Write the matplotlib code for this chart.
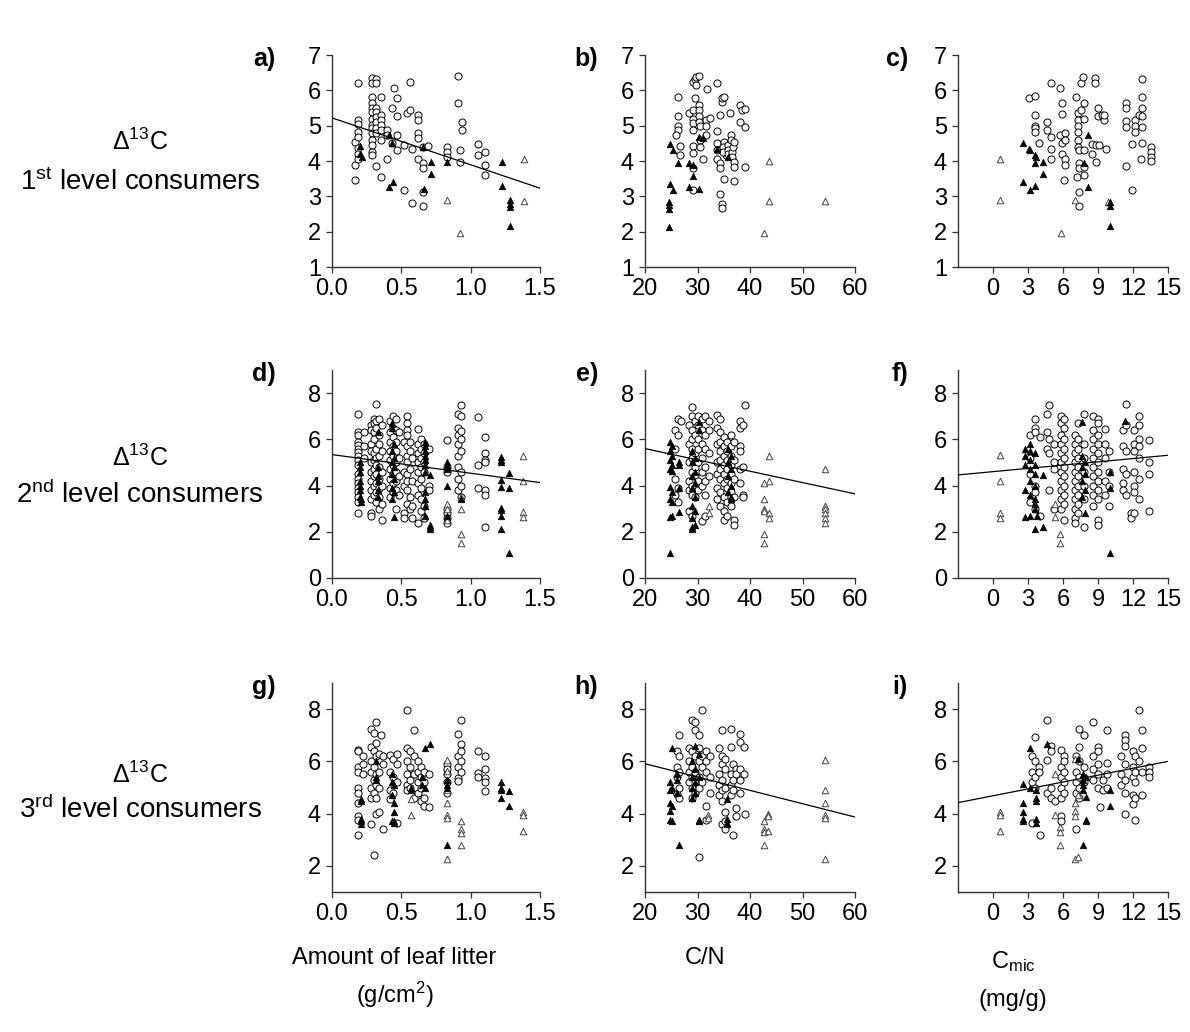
import matplotlib
matplotlib.use('Agg')
import matplotlib.pyplot as plt

plt.rcParams['font.family'] = ['Liberation Sans', 'DejaVu Sans']
plt.rcParams['mathtext.fontset'] = 'custom'
plt.rcParams['mathtext.rm'] = 'Liberation Sans'
plt.rcParams['mathtext.it'] = 'Liberation Sans'

# each series: list of (x, [y values stacked at that x])
# row 1 - 1st level consumers
a_circ = [(0.168, [3.46, 3.88, 4.54]), (0.185, [6.22, 5.16, 5.06, 4.83, 4.68, 4.38, 4.21, 4.07]),
          (0.29, [6.34, 6.2, 5.82, 5.63, 5.49, 5.39, 5.2, 5.02, 4.92, 4.78, 4.59, 4.45, 4.26, 4.17]),
          (0.32, [6.31, 6.2, 5.49, 5.39, 5.25, 5.11, 4.92, 4.78, 3.85]),
          (0.35, [5.82, 5.3, 5.16, 5.02, 4.87, 4.59, 3.55]), (0.40, [4.87, 4.73, 4.07]),
          (0.43, [5.49, 4.5]), (0.45, [6.07]), (0.47, [5.77, 5.27, 4.73, 4.3]), (0.52, [4.45, 3.17]),
          (0.54, [5.35]), (0.56, [6.24, 5.44]), (0.58, [4.33, 2.82]), (0.62, [5.3, 5.16, 4.78, 4.64, 4.07]),
          (0.655, [4.4, 3.93, 3.79, 3.13, 2.72]), (0.69, [4.42]), (0.83, [4.4, 4.26, 4.12]),
          (0.91, [6.4, 5.63]), (0.925, [4.3, 3.98]), (0.935, [5.11, 4.87]), (1.05, [4.47, 4.18]),
          (1.10, [4.26, 3.88, 3.6])]
a_fill = [(0.20, [4.42, 4.21]), (0.215, [4.12]), (0.41, [4.73, 3.27]), (0.43, [4.5]), (0.44, [3.4]),
          (0.655, [4.4]), (0.667, [3.22]), (0.713, [3.98, 3.64]), (0.83, [3.98]),
          (1.224, [3.98, 3.3]), (1.284, [2.89, 2.79, 2.7, 2.15])]
a_open = [(0.83, [2.89]), (0.924, [1.96]), (1.387, [4.07, 2.87])]

b_circ = [(26.3, [5.8, 5.27, 5.0]), (26.2, [4.87]), (25.9, [4.73]), (26.7, [4.42, 4.16]),
          (28.3, [5.35]), (29.1, [6.24, 5.44, 5.2, 5.08, 3.79]), (29.5, [6.31, 5.77]), (29.8, [6.39]),
          (30.3, [6.4]), (29.7, [6.15]), (29.2, [4.87, 4.42, 4.23, 3.17]),
          (30.2, [5.58, 5.44, 5.27, 5.11]), (30.4, [5.0, 4.59, 4.4]), (31.0, [4.07]), (31.9, [6.05]),
          (31.7, [5.16, 4.99, 4.73]), (32.3, [5.22]), (33.8, [6.2, 4.85, 4.52, 4.3, 4.07]),
          (34.2, [5.3, 3.93, 3.79]), (34.3, [3.08]), (34.6, [5.68, 5.77, 2.79, 2.68]),
          (35.1, [5.8, 3.5, 4.55]), (35.4, [4.35, 4.16]), (34.8, [4.4, 4.25]), (35.8, [4.45, 4.3, 4.2]),
          (36.2, [5.35]), (36.3, [4.73, 4.59]), (36.5, [4.25, 4.1]), (36.7, [4.4]),
          (36.9, [4.55, 3.98, 3.83]), (37.0, [3.44]), (38.1, [5.58, 5.11]), (38.4, [5.44]),
          (39.0, [5.46, 4.95, 3.83])]
b_fill = [(24.8, [4.47, 3.36]), (24.6, [2.84, 2.75, 2.65, 2.13]), (25.3, [4.31]), (25.4, [3.17]),
          (26.3, [3.93]), (28.4, [3.93, 3.27]), (29.1, [3.88, 3.57]), (30.3, [3.22]), (30.2, [4.69]),
          (31.1, [4.64]), (35.9, [4.12]), (33.8, [4.33])]
b_open = [(43.6, [4.0]), (43.7, [2.86]), (42.7, [1.96]), (54.3, [2.86])]

c_circ = [(3.1, [5.77]), (3.6, [5.84]), (3.56, [5.3, 4.99, 4.92, 4.83]), (3.9, [4.5]), (4.6, [5.11, 4.87]),
          (5.0, [4.68, 4.35, 4.07, 6.22]), (5.75, [6.07, 4.73]), (5.89, [5.65, 5.33, 4.5, 4.21]),
          (6.17, [4.07, 3.88]), (6.1, [3.46]), (6.2, [4.78, 4.59]), (7.1, [5.82]),
          (7.25, [5.36, 5.16, 4.99, 4.83, 4.59, 4.4]), (7.38, [4.3, 3.93, 3.79, 3.12, 2.72]),
          (7.16, [3.55]), (7.5, [5.44, 6.22]), (7.7, [6.39]), (7.8, [5.63, 5.18, 4.3, 3.83, 3.6]),
          (8.5, [4.48, 4.21]), (8.7, [6.34, 6.2]), (9.0, [5.49, 5.27]), (8.86, [4.45, 3.98]),
          (9.3, [5.3]), (9.5, [5.16, 5.3]), (9.7, [4.33]), (9.1, [4.45]),
          (11.4, [5.63, 5.49, 5.13, 4.97, 3.85]), (11.9, [3.19, 4.48]), (12.2, [5.16, 4.99, 4.83]),
          (12.5, [5.3]), (12.8, [6.31, 5.8, 5.49, 5.27, 4.97, 4.5]), (12.65, [4.07]),
          (13.5, [4.4, 4.26, 4.12, 4.0])]
c_fill = [(2.6, [4.5, 3.4]), (3.06, [4.35]), (3.2, [4.3, 3.17]), (3.6, [4.16, 3.95, 3.3]), (3.7, [4.1]),
          (4.3, [3.98, 3.64]), (8.15, [4.73]), (7.8, [3.95]), (8.1, [3.27]), (10.0, [2.84, 2.74, 2.15])]
c_open = [(0.6, [4.05, 2.89]), (5.8, [1.97]), (7.0, [2.89]), (9.85, [2.84])]

# row 2 - 2nd level consumers
d_circ = [(0.185, [7.1, 6.3, 6.2, 5.9, 5.75, 5.6, 5.45, 5.3, 5.1, 4.9, 4.5, 4.3, 4.1, 3.9, 3.7, 3.5, 3.3, 2.8]),
          (0.23, [6.3, 5.7, 5.2]), (0.28, [6.6, 6.4, 5.8, 5.5, 5.0, 4.6, 4.2, 3.8, 3.4, 2.8, 2.7]),
          (0.30, [6.9, 6.7, 6.3, 6.0, 5.4, 5.1, 4.7, 4.4, 4.0, 3.6]),
          (0.32, [7.54, 6.8, 6.5, 5.6, 5.2, 4.9, 4.5, 4.1, 3.7, 3.3]),
          (0.34, [6.9, 6.2, 5.8, 5.3, 4.8, 4.3, 3.9, 3.5, 3.0]), (0.36, [6.6, 5.5, 4.6, 4.0, 3.2, 2.5]),
          (0.42, [6.8, 6.3, 5.9, 5.5, 5.1, 4.7, 4.3, 3.9, 3.5]),
          (0.44, [7.0, 6.5, 6.1, 5.7, 5.3, 4.9, 4.5, 4.1, 3.7]),
          (0.46, [6.9, 6.4, 5.9, 5.5, 5.0, 4.6, 4.2, 3.8, 3.0]), (0.48, [6.3, 5.2, 4.4, 3.6]),
          (0.52, [5.9, 4.6, 4.0, 2.8, 2.6]), (0.54, [7.0, 6.7, 6.4, 6.2, 5.7, 5.3, 5.0, 4.5, 4.2, 3.8, 3.2]),
          (0.56, [5.9, 5.5, 4.7, 3.5, 3.0]), (0.58, [5.2, 4.2, 3.1, 2.6]),
          (0.62, [6.45, 5.8, 5.4, 5.0, 4.6, 4.1, 3.6, 2.4]), (0.64, [6.0, 5.6, 5.2, 4.8, 4.3, 3.9, 3.4, 2.9]),
          (0.66, [5.8, 5.4, 5.0, 4.6, 3.1, 2.6]), (0.70, [5.6, 4.0, 3.8]),
          (0.83, [5.95, 4.8, 4.6, 3.0, 2.8, 2.6, 2.4]), (0.91, [7.1, 6.5, 6.2, 5.8, 5.3, 4.8, 4.3, 3.8]),
          (0.93, [7.5, 7.0, 6.35, 6.0, 5.5, 4.6, 4.0, 3.5]), (1.05, [6.95, 4.9, 3.9]),
          (1.10, [6.1, 5.4, 5.1, 5.0, 3.8, 3.6, 2.2])]
d_fill = [(0.20, [5.0, 4.8, 4.6, 4.2, 4.0, 3.8, 3.5]), (0.21, [3.4, 3.3]), (0.33, [6.3, 4.8, 4.4, 4.2, 3.8, 3.5]),
          (0.43, [6.7, 6.5, 5.5, 5.0, 4.5, 3.9, 3.4]), (0.45, [5.8, 5.2, 4.8, 4.3, 3.7, 2.66]),
          (0.67, [5.9, 5.7, 5.5, 5.3, 5.1, 4.9, 4.6, 3.7, 3.4, 3.1, 2.7]), (0.71, [4.45, 2.3, 2.2, 2.1]),
          (0.83, [5.0, 4.9, 4.7, 4.0, 2.7]), (0.93, [3.4]),
          (1.22, [5.25, 5.1, 5.0, 4.25, 3.95, 3.05, 2.95, 2.7, 2.1]), (1.28, [4.55, 3.9, 1.1])]
d_open = [(0.83, [3.2, 3.0, 2.5]), (0.93, [3.5, 3.0, 1.9, 1.5]), (1.38, [5.3, 4.2, 2.85, 2.65])]

e_circ = [(25.7, [6.4, 5.6, 4.3, 3.6]), (26.3, [6.9, 6.2, 3.9, 3.3]), (26.8, [6.8]),
          (28.3, [6.6, 5.8, 5.0, 4.2, 3.8, 2.9]), (28.9, [7.4, 7.0, 6.4, 6.0, 5.6, 5.2, 4.6, 4.0, 3.6, 2.7]),
          (29.5, [6.8, 6.2, 5.4, 4.8, 4.4, 3.5]), (30.0, [7.0, 6.6, 6.0, 5.6, 5.0, 4.2, 3.8]),
          (30.8, [6.9, 6.4, 5.8, 5.2, 4.6, 4.0, 2.47]), (31.5, [7.0, 6.2, 5.6, 4.8, 4.2, 3.6, 2.7]),
          (32.2, [6.8, 6.4, 5.4, 4.4]), (33.7, [7.06, 6.5, 5.8, 5.0, 4.5, 3.9, 3.4]),
          (34.3, [6.9, 6.3, 5.9, 5.5, 5.1, 4.7, 4.3, 3.7, 3.1]),
          (35.0, [6.1, 5.7, 5.3, 4.9, 4.5, 4.1, 3.5, 2.9, 2.5]),
          (35.6, [5.9, 5.5, 5.1, 4.7, 4.3, 3.9, 3.3, 2.7]),
          (36.3, [6.2, 5.7, 5.3, 4.9, 4.5, 4.1, 3.7, 3.1]), (37.0, [5.9, 5.1, 4.3, 3.5, 2.5, 2.3]),
          (38.0, [6.8, 6.5, 5.7, 5.5, 4.7, 4.1]), (38.7, [6.6, 4.8, 3.6, 3.5]), (39.0, [7.5])]
e_fill = [(24.8, [5.9, 5.5, 5.1, 4.7, 3.94, 3.4, 2.65, 1.1]), (25.2, [5.7, 5.3, 4.9, 4.63, 3.7, 3.3, 2.7]),
          (26.5, [5.0, 4.9, 3.9, 2.84]), (29.0, [5.5, 5.0, 4.4, 3.9, 3.1, 2.6, 2.2, 2.1]),
          (29.6, [5.2, 4.6, 4.1, 3.5, 2.9, 2.3]), (30.3, [6.76, 6.4]),
          (35.8, [5.6, 5.0, 4.4, 3.7]), (36.3, [5.3, 4.7, 4.0, 3.5, 3.4])]
e_open = [(32.1, [3.1, 2.8]), (42.7, [4.1, 3.4, 3.0, 2.9, 1.9, 1.5]), (43.6, [5.3, 4.2, 2.8, 2.6]),
          (54.3, [4.7, 3.1, 3.0, 2.8, 2.6, 2.4])]

f_circ = [(3.2, [6.2, 5.2, 4.5, 3.3]), (3.6, [6.9, 6.5, 6.3, 4.0, 3.7, 3.0]), (4.0, [6.1, 2.7]),
          (4.6, [7.1, 6.3, 5.6]), (4.8, [7.5, 6.0, 5.4, 3.8]), (5.2, [5.8, 5.0, 4.7, 3.0]),
          (5.8, [7.0, 6.7, 6.2, 5.8, 5.4, 5.0, 4.6, 4.2, 3.8, 3.4, 3.0]),
          (6.1, [6.9, 6.5, 6.0, 5.6, 5.2, 4.8, 4.4, 4.0, 3.6, 3.2, 2.5]),
          (7.0, [6.2, 5.8, 5.4, 5.0, 4.6, 4.2, 3.8, 3.4, 3.0, 2.6, 2.4]),
          (7.3, [6.7, 6.0, 5.6, 5.2, 4.8, 4.4, 4.0, 3.6, 3.2, 2.8]), (7.8, [7.1, 5.8, 5.2, 4.6, 4.0, 3.4, 2.2]),
          (8.6, [7.0, 6.4, 6.0, 5.6, 5.2, 4.8, 4.4, 4.0, 3.6, 3.1]),
          (9.0, [6.9, 6.7, 6.2, 5.8, 5.4, 5.0, 4.6, 4.2, 3.8, 3.4, 2.5, 2.3]),
          (9.6, [6.45, 5.8, 5.2, 4.2, 3.6]), (9.9, [5.5, 4.6, 4.0, 3.1]), (11.1, [6.4, 5.7, 4.7, 4.1, 3.8]),
          (11.4, [7.55, 6.6, 5.5, 4.5, 3.6]), (11.8, [2.8, 2.6]), (12.1, [6.4, 5.8, 5.5, 4.6, 4.0, 3.7, 2.8]),
          (12.5, [7.0, 6.6, 6.0, 5.7, 5.2, 4.3, 3.4]), (13.4, [5.95, 5.0, 4.5, 2.9])]
f_fill = [(2.7, [5.6, 5.3, 4.9, 3.8, 2.65]), (3.2, [5.8, 5.5, 5.1, 4.7, 4.2, 3.6, 2.7]),
          (3.6, [5.4, 4.9, 4.5, 4.0, 3.4, 3.2, 3.0, 2.1]), (3.8, [2.7]), (4.3, [4.45, 2.2]),
          (7.6, [6.75, 5.3, 4.8, 4.2, 3.5]), (7.9, [5.0, 4.5, 3.8, 2.8]), (10.0, [4.6, 3.9, 1.08]),
          (11.3, [6.8])]
f_open = [(0.6, [5.32, 4.2, 2.8, 2.6]), (5.3, [3.2, 2.63]), (5.7, [1.9, 1.5])]

# row 3 - 3rd level consumers
g_circ = [(0.19, [6.45, 6.4, 5.8, 5.6, 5.0, 4.8, 4.4, 3.9, 3.75, 3.2]), (0.22, [6.2, 5.9, 5.5]),
          (0.28, [7.25, 6.55, 6.0, 5.6, 5.0, 4.6, 3.6]), (0.30, [7.1, 6.4, 5.8, 5.3, 4.8, 2.4]),
          (0.32, [7.5, 6.7, 6.2, 5.5, 5.1, 4.6, 4.0]), (0.34, [6.3, 5.6, 5.0, 4.05]),
          (0.35, [7.0]), (0.37, [6.2, 5.9, 3.4]), (0.42, [6.25, 5.6, 4.9, 4.55]), (0.44, [6.1, 5.4, 4.8]),
          (0.47, [5.9, 5.2, 6.3, 3.65]), (0.54, [7.95, 6.5, 6.0, 5.5, 5.1, 4.9]), (0.56, [6.4, 5.8, 5.3, 5.0]),
          (0.59, [7.2, 6.2, 5.5, 4.6]), (0.62, [6.0, 5.6, 5.2, 4.8]), (0.64, [5.8, 5.4, 5.0, 4.5]),
          (0.66, [5.6, 5.2, 4.6, 4.3]), (0.70, [5.5, 4.25]), (0.83, [5.9, 5.7, 5.5, 5.2, 4.8]),
          (0.91, [7.05, 6.2, 5.8, 5.35, 5.25]), (0.93, [7.6, 6.65, 6.4, 6.0, 5.6]),
          (1.05, [6.4, 5.55, 5.4]), (1.10, [6.2, 5.7, 5.35, 5.2, 4.85])]
g_fill = [(0.21, [4.55, 4.5, 3.8, 3.7, 3.6]), (0.32, [6.0, 5.4, 5.3]), (0.43, [5.5, 5.2, 4.7, 3.7]),
          (0.45, [5.1, 4.4, 4.05, 3.7, 3.65]), (0.57, [5.0, 4.9]), (0.65, [5.4, 5.1]), (0.67, [6.5, 5.0]),
          (0.71, [6.65]), (0.83, [5.3, 5.1, 5.0, 2.8]), (1.22, [5.2, 5.0, 4.9, 4.6]), (1.28, [4.85, 4.3])]
g_open = [(0.57, [4.55, 3.95]), (0.83, [6.05, 5.65, 4.9, 4.4, 3.95, 3.85, 2.25]),
          (0.93, [3.7, 3.4, 3.25, 2.8]), (1.38, [4.05, 3.95, 3.35])]

h_circ = [(26.0, [6.4, 5.8, 5.4, 4.75]), (26.5, [7.0, 6.2, 5.6, 5.0, 4.6]), (28.3, [6.5, 6.0, 5.6, 5.2]),
          (28.9, [7.6, 6.4, 5.8, 5.4, 5.0, 4.6]), (29.5, [7.5, 7.2, 6.2, 5.6, 5.2, 4.8]),
          (30.3, [7.0, 6.5, 6.0, 5.4, 5.0, 2.35]), (30.8, [7.95, 6.2, 5.8, 5.2]),
          (31.7, [6.4, 6.0, 5.6, 4.3, 3.75]), (32.3, [6.2, 5.4, 4.8]), (34.0, [6.5, 5.5, 5.1, 4.7]),
          (34.6, [7.2, 6.2, 5.9, 5.3, 4.9, 4.5, 3.6]), (35.2, [6.1, 5.7, 5.0, 4.05, 3.7, 3.4]),
          (36.3, [7.25, 6.55, 5.5, 5.1, 4.7]), (36.8, [5.9, 5.3, 4.9, 3.2]), (37.3, [5.7, 5.5, 4.2, 3.9]),
          (38.1, [7.05, 6.75, 5.7, 5.3, 4.8]), (38.8, [6.55, 5.5]), (39.0, [4.0])]
h_fill = [(24.8, [5.2, 4.9, 4.4, 4.1, 3.75]), (25.2, [6.5, 5.0, 4.3, 3.7]), (26.0, [5.5, 5.3, 4.8]),
          (26.5, [2.8]), (29.0, [6.0, 5.4, 5.0, 4.6]), (29.5, [6.6, 5.7, 5.2, 4.8]),
          (30.3, [6.3, 5.4, 3.75, 3.7]), (35.7, [4.55, 3.8, 3.65, 3.6])]
h_open = [(32.0, [3.95, 3.85]), (42.7, [3.7, 3.4, 3.3, 2.8]), (43.5, [4.0, 3.9, 3.35]),
          (54.3, [6.05, 4.9, 4.4, 3.95, 3.85, 2.25])]

i_circ = [(3.3, [6.2, 5.6, 5.2, 3.65]), (3.6, [6.95, 6.0, 5.4, 5.0]), (3.9, [5.8, 5.6]), (4.0, [3.2]),
          (4.6, [7.6, 6.05, 4.8]), (5.0, [6.6, 6.4, 5.0, 4.6]), (5.3, [4.5]),
          (5.8, [6.45, 5.8, 5.4, 5.0, 4.6, 3.9, 3.7]), (6.1, [6.2, 6.0, 5.6, 5.2, 4.8]),
          (7.1, [6.2, 5.6, 5.2, 4.8, 3.4]), (7.4, [7.25, 6.55, 6.0, 5.4, 5.0, 4.6]), (7.8, [7.0, 5.8, 5.2]),
          (8.6, [7.5, 6.2, 5.7, 5.3]), (9.0, [6.55, 6.4, 5.9, 5.5, 5.0]), (9.2, [4.25]), (9.4, [5.3, 4.9]),
          (9.8, [7.2, 5.95, 5.5, 5.0]), (11.0, [6.2, 5.5, 5.1]), (11.3, [7.0, 6.8, 6.6, 5.9, 5.3, 4.8, 4.0]),
          (12.0, [6.4, 5.8, 5.4, 4.7, 4.35]), (12.2, [6.2, 5.6, 5.2, 4.6, 3.75]), (12.5, [7.95, 6.0]),
          (12.8, [7.2, 6.5, 5.6, 4.7]), (13.4, [5.8, 5.6, 5.4])]
i_fill = [(2.6, [5.15, 4.4, 4.05, 3.8, 3.7]), (3.2, [6.5, 5.0]), (3.7, [4.9, 4.6, 4.5, 3.8, 3.65]),
          (4.6, [6.65]), (7.3, [6.1]), (7.7, [5.5, 5.3, 5.1, 4.9, 2.8]), (8.0, [5.4, 4.65, 3.75, 3.7]),
          (10.0, [4.9, 4.3])]
i_open = [(0.6, [4.05, 3.95, 3.35]), (5.3, [5.5, 3.95]), (5.7, [3.5, 3.3, 2.8]),
          (7.0, [6.1, 4.4, 4.1, 3.9, 2.25]), (7.3, [4.7, 2.35])]

# regression lines (x ends, y ends); None = no line
fit_a = ([0.0, 1.5], [5.22, 3.23])
fit_d = ([0.0, 1.5], [5.34, 4.13])
fit_e = ([20, 60], [5.6, 3.64])
fit_f = ([-3, 15], [4.46, 5.31])
fit_h = ([20, 60], [5.91, 3.87])
fit_i = ([-3, 15], [4.42, 6.0])

panel_letters = ['a)', 'b)', 'c)', 'd)', 'e)', 'f)', 'g)', 'h)', 'i)']
row_titles = [r'1$^{\mathrm{st}}$ level consumers', r'2$^{\mathrm{nd}}$ level consumers',
              r'3$^{\mathrm{rd}}$ level consumers']

panels = [[(a_circ, a_fill, a_open, fit_a), (b_circ, b_fill, b_open, None), (c_circ, c_fill, c_open, None)],
          [(d_circ, d_fill, d_open, fit_d), (e_circ, e_fill, e_open, fit_e), (f_circ, f_fill, f_open, fit_f)],
          [(g_circ, g_fill, g_open, None), (h_circ, h_fill, h_open, fit_h), (i_circ, i_fill, i_open, fit_i)]]


def flat(cols):
    xs, ys = [], []
    for x, yl in cols:
        for y in yl:
            xs.append(x)
            ys.append(y)
    return xs, ys


W, H = 1190, 1032
fig = plt.figure(figsize=(W / 100, H / 100), dpi=100)

col_left = [332, 645, 958]
col_w = [208, 210, 210]
row_top = [55, 370, 683]
row_bot = [267, 578, 892]
xlims = [(0, 1.5), (20, 60), (-3, 15)]
xticks = [[0, 0.5, 1.0, 1.5], [20, 30, 40, 50, 60], [0, 3, 6, 9, 12, 15]]
ylims = [(1, 7), (0, 9), (1, 9)]
yticks = [[1, 2, 3, 4, 5, 6, 7], [0, 2, 4, 6, 8], [2, 4, 6, 8]]
letter_x = [276, 598, 908]

for r in range(3):
    for c in range(3):
        circ, fill, opn, fit = panels[r][c]
        ax = fig.add_axes([col_left[c] / W, 1 - row_bot[r] / H, col_w[c] / W,
                           (row_bot[r] - row_top[r]) / H])
        x, y = flat(circ)
        ax.scatter(x, y, s=26, marker='o', facecolor='white', edgecolor='black', linewidth=0.7, zorder=2)
        x, y = flat(opn)
        ax.scatter(x, y, s=22, marker='^', facecolor='white', edgecolor='#444444', linewidth=0.7, zorder=3)
        x, y = flat(fill)
        ax.scatter(x, y, s=22, marker='^', facecolor='black', edgecolor='black', linewidth=0.5, zorder=4)
        if fit is not None:
            ax.plot(fit[0], fit[1], color='black', linewidth=0.9, zorder=5)
        ax.set_xlim(*xlims[c])
        ax.set_ylim(*ylims[r])
        ax.set_xticks(xticks[c])
        ax.set_yticks(yticks[r])
        if c == 0:
            ax.set_xticklabels(['%.1f' % v for v in xticks[c]])
        for s in ['top', 'right']:
            ax.spines[s].set_visible(False)
        for s in ['left', 'bottom']:
            ax.spines[s].set_color('#333333')
            ax.spines[s].set_linewidth(1.0)
        ax.tick_params(direction='out', length=4, width=0.9, color='#333333', labelsize=17, pad=4)
        ax.set_facecolor('white')
        fig.text(letter_x[c] / W, 1 - (row_top[r] + 4) / H, panel_letters[r * 3 + c],
                 fontsize=18, fontweight='bold', ha='right', va='center')

# row labels
for r, (yd, yc) in enumerate([(142, 182), (458, 495), (775, 810)]):
    fig.text(140 / W, 1 - yd / H, r'$\Delta^{13}$C', fontsize=18, ha='center', va='center')
    fig.text(140 / W, 1 - yc / H, row_titles[r], fontsize=20, ha='center', va='center')

# bottom axis labels
fig.text(394 / W, 1 - 958 / H, 'Amount of leaf litter', fontsize=17, ha='center', va='center')
fig.text(395 / W, 1 - 995 / H, r'(g/cm$^{2}$)', fontsize=17, ha='center', va='center')
fig.text(705 / W, 1 - 958 / H, 'C/N', fontsize=17, ha='center', va='center')
fig.text(1013 / W, 1 - 962 / H, r'C$_{\mathrm{mic}}$', fontsize=17, ha='center', va='center')
fig.text(1013 / W, 1 - 1000 / H, '(mg/g)', fontsize=17, ha='center', va='center')

fig.savefig('out.png', dpi=100, facecolor='white')
